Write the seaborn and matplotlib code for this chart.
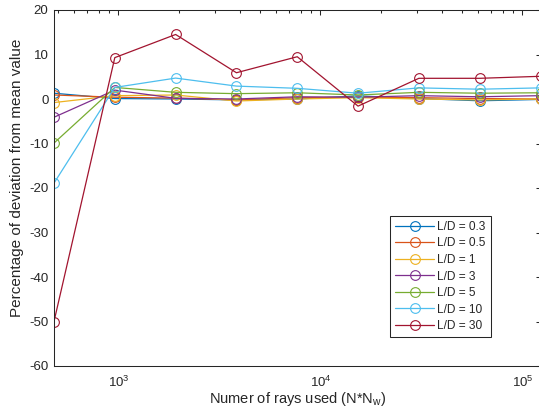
import matplotlib
matplotlib.use("Agg")
import matplotlib.pyplot as plt
import pandas as pd
import seaborn as sns
from matplotlib.ticker import LogLocator, NullFormatter

# Number of rays (N*Nw) and percentage deviation from the mean for each L/D ratio
n_rays = [480, 960, 1920, 3840, 7680, 15360, 30720, 61440, 122880]
ratios = ["0.3", "0.5", "1", "3", "5", "10", "30"]
dev_03 = [1.3, 0.1, 0.0, -0.2, 0.0, 0.7, 0.1, -0.4, -0.1]
dev_05 = [0.9, 0.4, 0.2, -0.2, 0.3, 0.4, 0.3, 0.1, 0.0]
dev_1 = [-0.8, 0.75, 0.9, -0.45, 0.0, 0.3, 0.0, -0.2, 0.0]
dev_3 = [-4.1, 2.0, 0.15, 0.0, 0.5, 0.4, 0.75, 0.5, 0.75]
dev_5 = [-9.9, 2.6, 1.5, 1.2, 1.4, 0.9, 1.5, 1.3, 1.4]
dev_10 = [-18.9, 2.6, 4.7, 2.9, 2.4, 1.3, 2.5, 2.2, 2.5]
dev_30 = [-50.0, 9.3, 14.5, 5.9, 9.5, -1.6, 4.65, 4.65, 5.1]
series = [dev_03, dev_05, dev_1, dev_3, dev_5, dev_10, dev_30]
colors = ["#0072BD", "#D95319", "#EDB120", "#7E2F8E", "#77AC30", "#4DBEEE", "#A2142F"]

labels = [f"L/D = {r}" for r in ratios]
rows = []
for lab, vals in zip(labels, series):
    for n, v in zip(n_rays, vals):
        rows.append({"rays": n, "dev": v, "ratio": lab})
df = pd.DataFrame(rows)

sns.set_theme(style="white")
plt.rcParams["font.family"] = ["Liberation Sans", "DejaVu Sans"]
plt.rcParams["mathtext.fontset"] = "custom"
plt.rcParams["mathtext.rm"] = "Liberation Sans"
plt.rcParams["mathtext.it"] = "Liberation Sans:italic"
plt.rcParams["mathtext.bf"] = "Liberation Sans:bold"
plt.rcParams["axes.unicode_minus"] = False

ink = "#262626"
fig = plt.figure(figsize=(5.39, 4.09), dpi=100)
ax = fig.add_axes([54 / 539, 43 / 409, 486.5 / 539, 356 / 409])

sns.lineplot(data=df, x="rays", y="dev", hue="ratio", hue_order=labels,
             palette=colors, marker="o", markersize=7, linewidth=0.9,
             legend=False, ax=ax, sort=False)

handles = ax.lines[:len(labels)]
for line in handles:
    c = line.get_color()
    line.set_markerfacecolor("none")
    line.set_markeredgecolor(c)
    line.set_markeredgewidth(0.8)

ax.set_xscale("log")
ax.set_xlim(n_rays[0], n_rays[-1])
ax.set_ylim(-60, 20)
ax.set_yticks(range(-60, 21, 10))
ax.xaxis.set_minor_locator(LogLocator(base=10, subs=range(2, 10), numticks=20))
ax.xaxis.set_minor_formatter(NullFormatter())

ax.tick_params(which="both", direction="in", top=True, right=True,
               colors=ink, labelsize=9.5, width=0.75)
ax.tick_params(which="major", length=3.5)
ax.tick_params(axis="y", which="major", pad=4)
ax.tick_params(axis="x", which="major", pad=6)
ax.tick_params(which="minor", length=2)
for sp in ax.spines.values():
    sp.set_color(ink)
    sp.set_linewidth(0.75)

ax.set_xlabel("Numer of rays used (N*N$_\\mathregular{w}$)", fontsize=10.5,
              color=ink, labelpad=0)
ax.set_ylabel("Percentage of deviation from mean value", fontsize=11,
              color=ink)
ax.yaxis.set_label_coords(-0.062, 0.53)

leg = ax.legend(handles, labels, loc="upper left", bbox_to_anchor=(0.691, 0.421),
                fontsize=8.6, frameon=True, fancybox=False, framealpha=1,
                edgecolor=ink, borderaxespad=0, handlelength=3.3,
                handletextpad=0.25, labelspacing=0.38, borderpad=0.4)
leg.get_frame().set_linewidth(0.75)
for t in leg.get_texts():
    t.set_color(ink)

fig.savefig("out.png", dpi=100)
